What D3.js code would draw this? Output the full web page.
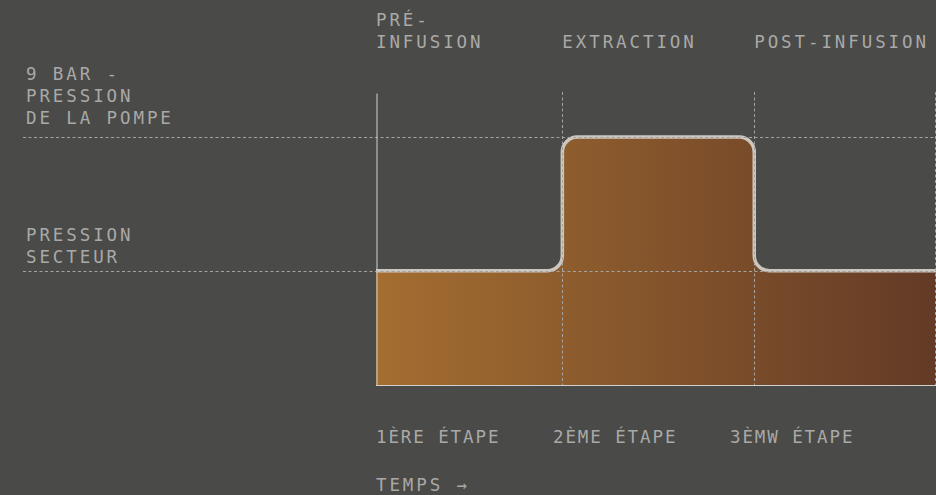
<!DOCTYPE html>
<html><head><meta charset="utf-8">
<script src="https://cdn.jsdelivr.net/npm/d3@7"></script>
<style>
html,body{margin:0;padding:0;background:#4a4a48;}
svg{display:block;}
text{font-family:"DejaVu Sans Mono",monospace;font-size:17.5px;letter-spacing:2.9px;fill:#a9a9a7;}
text.step{letter-spacing:1.9px;}
</style></head><body>
<svg id="chart" width="936" height="495"></svg>
<script>
// ---- data ----
const phaseNames = [["PRÉ-", "INFUSION"], ["EXTRACTION"], ["POST-INFUSION"]];
const phaseStart = [0, 10, 20.3];
const phaseEnd = [10, 20.3, 30];
const phasePressure = [4.15, 9, 4.15];
const stepLabels = ["1ÈRE ÉTAPE", "2ÈME ÉTAPE", "3ÈMW ÉTAPE"];
const levelValues = [9, 4.15];
const levelLabels = [["9 BAR -", "PRESSION", "DE LA POMPE"], ["PRESSION", "SECTEUR"]];
const axisLabel = "TEMPS →";

// ---- layout ----
const W = 936, H = 495;
const x = d3.scaleLinear().domain([0, 30]).range([376, 935]);
const y = d3.scaleLinear().domain([0, 10.6]).range([385, 93]);
const svg = d3.select("#chart");

const defs = svg.append("defs");
const grad = defs.append("linearGradient").attr("id", "fillGrad")
  .attr("gradientUnits", "userSpaceOnUse")
  .attr("x1", x(0)).attr("x2", W).attr("y1", 0).attr("y2", 0);
grad.append("stop").attr("offset", "0%").attr("stop-color", "#a46e31");
grad.append("stop").attr("offset", "100%").attr("stop-color", "#633a26");

// vertices of the step profile
const verts = [];
phaseStart.forEach((s, i) => {
  const py = y(phasePressure[i]);
  verts.push([x(s), py]);
  verts.push([x(phaseEnd[i]), py]);
});
const R = 15;
function profile(p) {
  p.moveTo(verts[0][0], verts[0][1]);
  for (let i = 1; i < verts.length - 1; i++) {
    const a = verts[i], b = verts[i + 1];
    if (Math.abs(a[0] - b[0]) < 0.01 && Math.abs(a[1] - b[1]) < 0.01) continue;
    const prev = verts[i - 1];
    if (Math.abs(prev[0] - a[0]) < 0.01 && Math.abs(prev[1] - a[1]) < 0.01) continue;
    p.arcTo(a[0], a[1], b[0], b[1], R);
  }
  const last = verts[verts.length - 1];
  p.lineTo(last[0] + 1, last[1]);
  return p;
}

const areaPath = profile(d3.path());
const last = verts[verts.length - 1];
areaPath.lineTo(last[0] + 1, y(0));
areaPath.lineTo(x(0), y(0));
areaPath.closePath();

svg.append("path").attr("d", areaPath.toString())
  .attr("fill", "url(#fillGrad)");

svg.append("path").attr("d", profile(d3.path()).toString())
  .attr("fill", "none").attr("stroke", "#cdc6bf").attr("stroke-width", 3.5)
  .attr("stroke-linejoin", "round");

// gridlines
svg.append("g").selectAll("line").data(levelValues).join("line")
  .attr("x1", 23).attr("x2", W)
  .attr("y1", d => Math.round(y(d)) + 0.5).attr("y2", d => Math.round(y(d)) + 0.5)
  .attr("stroke", "#a3a3a1").attr("stroke-width", 1).attr("stroke-dasharray", "3,2.5");

svg.append("g").selectAll("line").data(phaseEnd).join("line")
  .attr("x1", d => Math.round(x(d)) + 0.5).attr("x2", d => Math.round(x(d)) + 0.5)
  .attr("y1", y.range()[1] - 1).attr("y2", y(0))
  .attr("stroke", "#a3a3a1").attr("stroke-width", 1).attr("stroke-dasharray", "3,2.5");

// axes (domain lines only)
const gx = svg.append("g").attr("transform", `translate(0,${y(0) + 0.5})`)
  .call(d3.axisBottom(x).tickValues([]).tickSizeOuter(0));
const gy = svg.append("g").attr("transform", `translate(${x(0) + 0.5},0)`)
  .call(d3.axisLeft(y).tickValues([]).tickSizeOuter(0));
svg.selectAll(".domain").attr("stroke", "#d0d0ce").attr("stroke-width", 1);
gx.select(".domain").attr("d", `M${x(0)},0H${W}`);

// phase labels (bottom-aligned)
const LH = 22;
svg.append("g").selectAll("text").data(phaseNames).join("text")
  .attr("x", (d, i) => x(phaseStart[i]))
  .attr("y", d => 47.5 - (d.length - 1) * LH)
  .each(function (d) {
    const t = d3.select(this);
    d.forEach((line, j) => {
      t.append("tspan").attr("x", t.attr("x")).attr("dy", j === 0 ? 0 : LH).text(line);
    });
  });

// level labels
const levelBaselines = [80, 241];
svg.append("g").selectAll("text").data(levelLabels).join("text")
  .attr("x", 26).attr("y", (d, i) => levelBaselines[i])
  .each(function (d) {
    const t = d3.select(this);
    d.forEach((line, j) => {
      t.append("tspan").attr("x", 26).attr("dy", j === 0 ? 0 : LH).text(line);
    });
  });

// step labels
svg.append("g").selectAll("text").data(stepLabels).join("text")
  .attr("class", "step")
  .attr("x", (d, i) => x(0) + i * 177).attr("y", 443).text(d => d);

svg.append("text").attr("x", x(0)).attr("y", 490.5).text(axisLabel);
</script>
</body></html>
